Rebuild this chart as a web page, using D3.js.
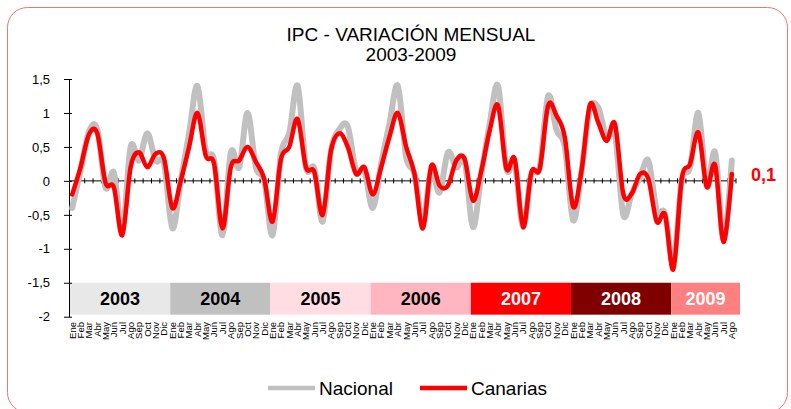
<!DOCTYPE html>
<html>
<head>
<meta charset="utf-8">
<script src="https://cdn.jsdelivr.net/npm/d3@7"></script>
<style>
  html, body { margin: 0; padding: 0; background: #fff; }
  svg { display: block; font-family: "Liberation Sans", Arial, sans-serif; }
</style>
</head>
<body>
<svg id="chart" width="791" height="409"></svg>
<script>
// ---------- data ----------
const months = ["Ene","Feb","Mar","Abr","May","Jun","Jul","Ago","Sep","Oct","Nov","Dic"];
const years = ["2003","2004","2005","2006","2007","2008","2009"];
const yearColors = ["#e8e8e8","#c0c0c0","#ffdde2","#ffb6c1","#ff0000","#800000","#ff8080"];
const yearTextColors = ["#000","#000","#000","#000","#fff","#fff","#fff"];
const yTicks = [1.5, 1, 0.5, 0, -0.5, -1, -1.5, -2];

const nacional = [
  -0.4, 0.15, 0.72, 0.76, -0.1, 0.12, -0.75, 0.5, 0.3, 0.7, 0.3, 0.25,
  -0.7, 0.0, 0.7, 1.4, 0.45, 0.3, -0.8, 0.42, 0.2, 1.0, 0.2, 0.0,
  -0.8, 0.4, 0.7, 1.4, 0.2, 0.18, -0.6, 0.45, 0.76, 0.8, 0.15, 0.15,
  -0.4, 0.25, 0.84, 1.4, 0.35, 0.1, -0.6, 0.15, -0.17, 0.42, 0.2, 0.3,
  -0.68, 0.1, 0.84, 1.4, 0.18, 0.25, -0.68, 0.1, 0.2, 1.25, 0.75, 0.5,
  -0.58, 0.15, 1.05, 1.08, 0.64, 0.7, -0.5, -0.19, 0.05, 0.3, -0.43, -0.48,
  -1.2, 0.0, 0.2, 1.0, -0.07, 0.42, -0.87, 0.3
];
const canarias = [
  -0.2, 0.2, 0.68, 0.7, -0.03, -0.1, -0.8, 0.2, 0.42, 0.2, 0.4, 0.33,
  -0.4, 0.0, 0.5, 1.0, 0.37, 0.25, -0.7, 0.2, 0.3, 0.5, 0.28, 0.03,
  -0.6, 0.32, 0.5, 0.91, 0.2, 0.13, -0.5, 0.45, 0.7, 0.5, 0.1, 0.2,
  -0.2, 0.2, 0.65, 1.0, 0.5, 0.1, -0.7, 0.22, -0.07, -0.07, 0.3, 0.32,
  -0.29, 0.15, 0.74, 1.11, 0.18, 0.32, -0.68, 0.13, 0.18, 1.11, 0.96, 0.64,
  -0.38, 0.15, 1.12, 0.86, 0.59, 0.84, -0.19, -0.19, 0.1, 0.03, -0.6, -0.5,
  -1.3, 0.03, 0.25, 0.71, -0.09, 0.23, -0.9, 0.1
];
const seriesNames = ["Nacional", "Canarias"];
const titleLines = ["IPC - VARIACIÓN MENSUAL", "2003-2009"];

// ---------- layout ----------
const svg = d3.select("#chart");
const n = canarias.length;
const idx = d3.range(n);

const x = d3.scaleBand().domain(idx).range([68, 736]).padding(0);
const cx = i => x(i) + x.bandwidth() / 2;
const y = d3.scaleLinear().domain([-2, 1.5]).range([316.7, 79]);

// border
svg.append("rect")
  .attr("x", 7.5).attr("y", 7.5).attr("width", 780).attr("height", 405)
  .attr("rx", 20).attr("ry", 20)
  .attr("fill", "#fff").attr("stroke", "#f47272").attr("stroke-width", 1);

// title
svg.append("g").selectAll("text").data(titleLines).join("text")
  .attr("x", 411).attr("y", (d, i) => 41 + i * 20)
  .attr("text-anchor", "middle")
  .attr("font-size", 19).attr("fill", "#000")
  .text(d => d);

// year bands
const edge = m => x.range()[0] + m * x.step() + 2;
const yearG = svg.append("g");
years.forEach((yr, k) => {
  const m0 = k * 12, m1 = Math.min(n, (k + 1) * 12);
  const x0 = edge(m0), x1 = (m1 === n) ? edge(m1) + 2 : edge(m1);
  yearG.append("rect")
    .attr("x", x0).attr("y", y(-1.5))
    .attr("width", x1 - x0).attr("height", y(-1.97) - y(-1.5))
    .attr("fill", yearColors[k]);
  yearG.append("text")
    .attr("x", (x0 + x1) / 2).attr("y", (y(-1.5) + y(-1.97)) / 2)
    .attr("dy", "0.36em")
    .attr("text-anchor", "middle")
    .attr("font-size", 18).attr("font-weight", "bold")
    .attr("fill", yearTextColors[k])
    .text(yr);
});

// y axis
const yAxis = d3.axisLeft(y).tickValues(yTicks)
  .tickFormat(d => String(d).replace(".", ","))
  .tickSizeInner(5).tickSizeOuter(0).tickPadding(14);
const yg = svg.append("g").attr("transform", "translate(69,0)").call(yAxis);
yg.select(".domain").attr("stroke", "#000");
yg.selectAll(".tick line").attr("stroke", "#000").attr("x2", -5).attr("x1", 3);
yg.selectAll(".tick text").attr("font-size", 13).attr("font-family", "Liberation Sans, Arial, sans-serif").attr("fill", "#000");

// x axis line at zero with small ticks at category boundaries
const xg = svg.append("g");
xg.append("line")
  .attr("x1", 69).attr("x2", x.range()[1])
  .attr("y1", y(0)).attr("y2", y(0))
  .attr("stroke", "#000").attr("stroke-width", 1);
xg.selectAll("line.tk").data(d3.range(1, n + 1)).join("line")
  .attr("class", "tk")
  .attr("x1", d => x.range()[0] + d * x.step()).attr("x2", d => x.range()[0] + d * x.step())
  .attr("y1", y(0) - 2.5).attr("y2", y(0) + 2.5)
  .attr("stroke", "#000").attr("stroke-width", 1);

// month labels (rotated)
const xAxis = d3.axisBottom(x).tickFormat(i => months[i % 12]).tickSize(0).tickPadding(0);
const xl = svg.append("g").attr("transform", "translate(0,322)").call(xAxis);
xl.select(".domain").remove();
xl.selectAll(".tick text")
  .attr("font-size", 9.5).attr("font-family", "Liberation Sans, Arial, sans-serif").attr("fill", "#000")
  .attr("text-anchor", "end")
  .attr("transform", "rotate(-90)")
  .attr("x", 0).attr("y", 0).attr("dy", "0.35em");

// lines
const line = d3.line().x((d, i) => cx(i)).y(d => y(d)).curve(d3.curveCatmullRom.alpha(0));
svg.append("path").datum(nacional)
  .attr("d", line).attr("fill", "none")
  .attr("stroke", "#c0c0c0").attr("stroke-width", 6)
  .attr("stroke-linejoin", "round").attr("stroke-linecap", "round");
svg.append("path").datum(canarias)
  .attr("d", line).attr("fill", "none")
  .attr("stroke", "#ff0000").attr("stroke-width", 4.5)
  .attr("stroke-linejoin", "round").attr("stroke-linecap", "round");

// last-value label
svg.append("text")
  .attr("x", 751).attr("y", y(canarias[n - 1])).attr("dy", "0.36em")
  .attr("font-size", 18).attr("font-weight", "bold").attr("fill", "#ff0000")
  .text(String(canarias[n - 1]).replace(".", ","));

// legend
const legend = svg.append("g");
const legItems = [
  { name: seriesNames[0], color: "#c0c0c0", x0: 268 },
  { name: seriesNames[1], color: "#ff0000", x0: 420 }
];
legItems.forEach(it => {
  legend.append("line")
    .attr("x1", it.x0).attr("x2", it.x0 + 47)
    .attr("y1", 388).attr("y2", 388)
    .attr("stroke", it.color).attr("stroke-width", 4.5);
  legend.append("text")
    .attr("x", it.x0 + 51).attr("y", 388).attr("dy", "0.36em")
    .attr("font-size", 19).attr("fill", "#000")
    .text(it.name);
});
</script>
</body>
</html>
